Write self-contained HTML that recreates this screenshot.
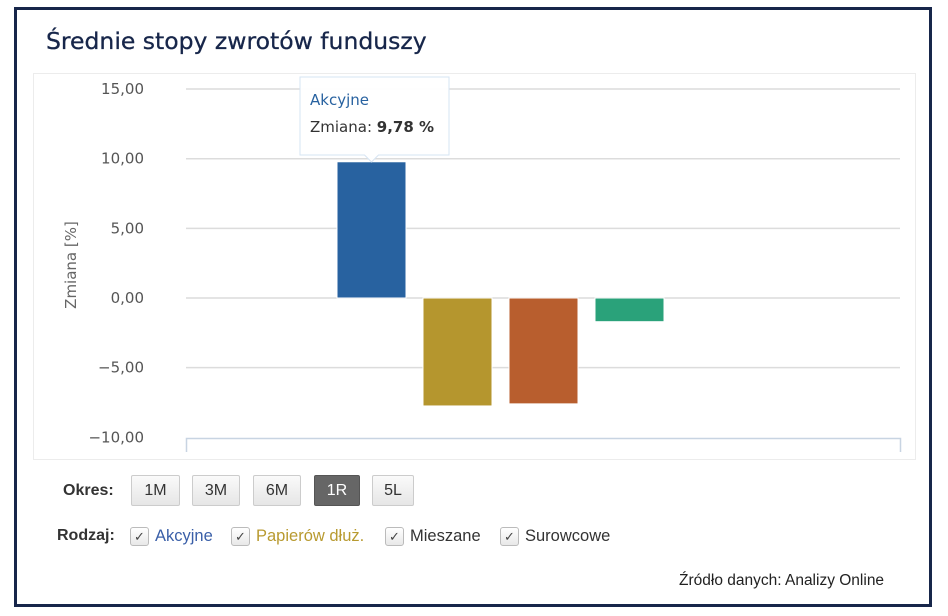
<!DOCTYPE html>
<html><head><meta charset="utf-8"><style>
body{margin:0;width:948px;height:616px;background:#fff;position:relative;overflow:hidden;font-family:"Liberation Sans",sans-serif}
.frame{position:absolute;left:14px;top:7px;width:912px;height:594px;border:3px solid #17264a}
.title{position:absolute;left:46px;top:27px;font-family:"DejaVu Sans","Liberation Sans",sans-serif;font-size:23.5px;color:#17264a;-webkit-text-stroke:0.3px #17264a}
.box{position:absolute;left:33px;top:73px;width:881px;height:385px;border:1px solid #ececec}
.btn{position:absolute;top:475px;height:29px;line-height:29px;padding:0;font-size:16px;text-align:center;background:linear-gradient(#fafafa,#e6e6e6);border:1px solid #ccc;border-radius:2px;color:#333}
.lbl{position:absolute;font-size:16px;font-weight:bold;color:#333}
.cb{position:absolute;top:527px;width:17px;height:17px;border:1px solid #bbb;border-radius:3px;background:linear-gradient(#fff,#e8e8e8);font-size:13px;line-height:17px;text-align:center;color:#444}
.ct{position:absolute;top:527px;font-size:16.5px}
</style></head><body>
<div class="frame"></div>
<div class="title">Średnie stopy zwrotów funduszy</div>
<div class="box"></div>
<svg id="chart" width="948" height="616" style="position:absolute;left:0;top:0"></svg>
<div class="lbl" style="left:63px;top:482px">Okres:</div>
<div class="btn" style="left:131px;width:47px">1M</div>
<div class="btn" style="left:192px;width:46px">3M</div>
<div class="btn" style="left:253px;width:46px">6M</div>
<div class="btn" style="left:314px;width:44px;background:#666;color:#fff;border-color:#555">1R</div>
<div class="btn" style="left:372px;width:40px">5L</div>
<div class="lbl" style="left:57px;top:527px">Rodzaj:</div>
<div class="cb" style="left:130px">✓</div>
<div class="ct" style="left:155px;color:#3a5fa8">Akcyjne</div>
<div class="cb" style="left:231px">✓</div>
<div class="ct" style="left:256px;color:#b89a30">Papierów dłuż.</div>
<div class="cb" style="left:385px">✓</div>
<div class="ct" style="left:410px;color:#333">Mieszane</div>
<div class="cb" style="left:500px">✓</div>
<div class="ct" style="left:525px;color:#333">Surowcowe</div>
<div style="position:absolute;left:679px;top:572px;font-size:15.5px;color:#222">Źródło danych: Analizy Online</div>
<script>
const categories=["Akcyjne","Papierów dłuż.","Mieszane","Surowcowe"];
const values=[9.78,-7.75,-7.6,-1.7];
const colors=["#2862a0","#b5962e","#b85e2e","#2aa27a"];
const ticks=[15,10,5,0,-5,-10];
const ns="http://www.w3.org/2000/svg";
const svg=document.getElementById('chart');
const y=v=>298-v*13.93;
const xc=i=>371.5+i*86;
function mk(t,a){const e=document.createElementNS(ns,t);for(const k in a)e.setAttribute(k,a[k]);svg.appendChild(e);return e;}
ticks.forEach(t=>{
  if(t>-10){const l=mk('line',{x1:186,x2:900,y1:y(t),y2:y(t),stroke:'#dcdcdc','stroke-width':1.5});
  
  }
  const tx=mk('text',{x:144,y:y(t)+5,'text-anchor':'end','font-size':15,fill:'#555','font-family':'DejaVu Sans, sans-serif'});
  tx.textContent=t.toFixed(2).replace('.',',').replace('-','−');
  
  
});
const ax=mk('path',{d:'M186.5 452V438.5H900.5V452',fill:'none',stroke:'#c8d4e2','stroke-width':1.5});


const yt=mk('text',{x:0,y:0,transform:'translate(76,265) rotate(-90)','text-anchor':'middle','font-size':15,fill:'#666','font-family':'DejaVu Sans, sans-serif'});
yt.textContent='Zmiana [%]';


values.forEach((v,i)=>{
  const top=Math.min(y(v),y(0)),h=Math.abs(y(v)-y(0));
  const r=mk('rect',{x:xc(i)-34.5,y:top,width:69,height:h,fill:colors[i],stroke:'#fff','stroke-width':1});
  
  
});
const tx0=xc(0);
const tp=mk('path',{d:`M300 77H449V155H${tx0+7}L${tx0} 162L${tx0-7} 155H300Z`,fill:'rgba(255,255,255,0.95)',stroke:'#d6e4f3','stroke-width':1});


const t1=mk('text',{x:310,y:105,'font-size':15,fill:'#2862a0','font-family':'DejaVu Sans, sans-serif'});
t1.textContent=categories[0];


const t2=mk('text',{x:310,y:132,'font-size':15,fill:'#333','font-family':'DejaVu Sans, sans-serif'});
t2.innerHTML='Zmiana: <tspan font-weight="bold">'+values[0].toFixed(2).replace('.',',')+' %</tspan>';


</script>
</body></html>
